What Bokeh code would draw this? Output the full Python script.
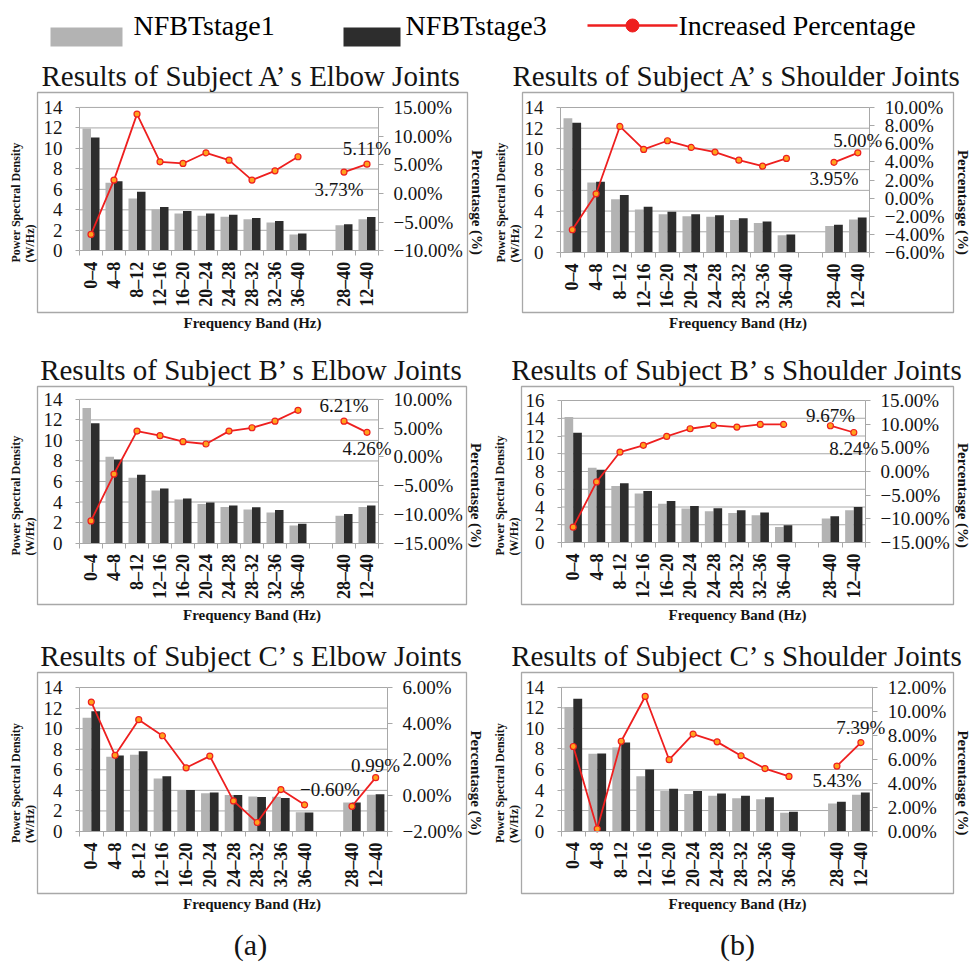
from math import pi

from bokeh.core.properties import value
from bokeh.embed import file_html
from bokeh.layouts import column, row
from bokeh.models import (CustomJSTickFormatter, FixedTicker, Label, LinearAxis,
                          Range1d, SingleIntervalTicker, Title)
from bokeh.plotting import figure
from bokeh.resources import INLINE

# ---------------------------------------------------------------- data
bands = ["0–4", "4–8", "8–12", "12–16", "16–20", "20–24", "24–28",
         "28–32", "32–36", "36–40", "28–40", "12–40"]

a_elbow_stage1 = [11.95, 6.64, 5.11, 4.04, 3.65, 3.42, 3.32, 3.09, 2.77, 1.60, 2.50, 3.09]
a_elbow_stage3 = [11.07, 6.80, 5.77, 4.27, 3.88, 3.65, 3.52, 3.19, 2.90, 1.69, 2.60, 3.29]
a_elbow_pct = [-7.15, 2.33, 13.84, 5.52, 5.23, 7.09, 5.81, 2.33, 3.95, 6.40, 3.73, 5.11]

a_shoulder_stage1 = [12.97, 6.76, 5.15, 4.15, 3.70, 3.51, 3.44, 3.15, 2.86, 1.67, 2.57, 3.19]
a_shoulder_stage3 = [12.52, 6.82, 5.54, 4.41, 3.93, 3.70, 3.60, 3.31, 2.99, 1.74, 2.67, 3.38]
a_shoulder_pct = [-3.49, 0.48, 7.91, 5.37, 6.33, 5.59, 5.08, 4.19, 3.53, 4.38, 3.95, 5.00]

b_elbow_stage1 = [13.16, 8.40, 6.37, 5.12, 4.25, 3.80, 3.51, 3.28, 2.99, 1.71, 2.67, 3.51]
b_elbow_stage3 = [11.68, 8.14, 6.66, 5.31, 4.35, 3.96, 3.67, 3.48, 3.22, 1.87, 2.83, 3.67]
b_elbow_pct = [-11.15, -2.99, 4.48, 3.68, 2.64, 2.24, 4.48, 5.06, 6.21, 8.10, 6.21, 4.26]

b_shoulder_stage1 = [14.13, 8.43, 6.37, 5.51, 4.38, 3.82, 3.52, 3.33, 3.07, 1.76, 2.70, 3.63]
b_shoulder_stage3 = [12.36, 8.21, 6.67, 5.81, 4.68, 4.12, 3.86, 3.63, 3.37, 1.95, 2.96, 4.01]
b_shoulder_pct = [-11.77, -2.21, 4.11, 5.52, 7.41, 9.03, 9.73, 9.38, 9.94, 9.94, 9.67, 8.24]

c_elbow_stage1 = [11.07, 7.27, 7.47, 5.16, 4.03, 3.73, 3.54, 3.41, 3.38, 1.88, 2.83, 3.57]
c_elbow_stage3 = [11.69, 7.40, 7.79, 5.36, 4.03, 3.80, 3.54, 3.35, 3.25, 1.85, 2.83, 3.61]
c_elbow_pct = [5.19, 2.23, 4.21, 3.32, 1.54, 2.19, -0.30, -1.50, 0.33, -0.52, -0.60, 0.99]

c_shoulder_stage1 = [12.08, 7.53, 8.14, 5.35, 3.91, 3.62, 3.43, 3.20, 3.11, 1.79, 2.69, 3.53]
c_shoulder_stage3 = [12.88, 7.56, 8.62, 5.99, 4.13, 3.91, 3.65, 3.43, 3.30, 1.89, 2.85, 3.75]
c_shoulder_pct = [7.06, 0.19, 7.50, 11.24, 5.96, 8.10, 7.45, 6.29, 5.22, 4.56, 5.43, 7.39]

series_names = ["NFBTstage1", "NFBTstage3", "Increased Percentage"]
caption_names = ["(a)", "(b)"]

# ---------------------------------------------------------------- style
SERIF = "Liberation Serif"
GRAY = "#b3b3b3"
DARK = "#2d2d2d"
RED = "#ee1f1f"
MARK = "#ffa21c"
RULE = "#a8a8a8"
INK = "#141414"

# the ten bands, an empty slot, then the two summary bands
n_main = 10
slot = [i if i < n_main else i + 1 for i in range(len(bands))]
centers = [s + 0.5 for s in slot]
n_slots = slot[-1] + 1


def pct_text(v):
    s = f"{abs(v):.2f}%"
    return "\u2212" + s if v < 0 else s


pct_fmt = CustomJSTickFormatter(code="""
    const s = Math.abs(tick).toFixed(2) + "%";
    return tick < 0 ? "\\u2212" + s : s;
""")


def style_ticks(ax, size):
    ax.major_label_text_font = SERIF
    ax.major_label_text_font_size = size
    ax.major_label_text_color = INK
    ax.axis_line_color = RULE
    ax.major_tick_line_color = RULE
    ax.minor_tick_line_color = None


def panel(title, s1, s3, pct, psd_max, pct_lo, pct_hi, pct_step, tags, g):
    """One chart panel; the plot frame is the grey chart-area box and the
    axes sit inside it at fixed data locations."""
    x0, y0, w, h = g["fig"]
    bl, bt, br, bb = g["box"]
    L, T, R, B = g["axes"]

    # extend the ranges so that slot 0 / slot 13 and the value limits land on
    # the axis positions inside the box
    xs = (R - L) / n_slots
    ys = (B - T) / psd_max
    ps = (B - T) / (pct_hi - pct_lo)
    x_rng = Range1d(-(L - bl) / xs, n_slots + (br - R) / xs)
    y_rng = Range1d(-(bb - B) / ys, psd_max + (T - bt) / ys)
    p_rng = Range1d(pct_lo - (bb - B) / ps, pct_hi + (T - bt) / ps)

    p = figure(width=w, height=h, output_backend="svg", toolbar_location=None,
               x_range=x_rng, y_range=y_rng, title=title,
               x_axis_location=None, y_axis_location=None,
               min_border_left=bl - x0, min_border_top=bt - y0,
               min_border_right=x0 + w - br, min_border_bottom=y0 + h - bb)
    p.extra_y_ranges = {"pct": p_rng}
    p.outline_line_color = RULE
    p.outline_line_width = 1.3
    p.background_fill_color = "white"
    p.border_fill_color = "white"
    p.grid.visible = False

    p.title.align = "center"
    p.title.text_font = SERIF
    p.title.text_font_size = "29px"
    p.title.text_font_style = "normal"
    p.title.text_color = INK
    p.title.standoff = 2

    # horizontal rules at the left-axis ticks, between the two value axes
    rules = list(range(2, psd_max + 1, 2))
    p.segment(x0=[0] * len(rules), x1=[n_slots] * len(rules), y0=rules, y1=rules,
              line_color=RULE, line_width=1)

    # category axis: labels at slot centres, tick marks on slot boundaries
    xa = LinearAxis(fixed_location=0, bounds=(0, n_slots),
                    ticker=FixedTicker(ticks=centers, minor_ticks=list(range(n_slots + 1))))
    style_ticks(xa, "18px")
    xa.major_label_overrides = {c: b for c, b in zip(centers, bands)}
    xa.major_label_orientation = pi / 2
    xa.major_label_text_font_style = "bold"
    xa.major_tick_out = 0
    xa.major_tick_in = 0
    xa.minor_tick_line_color = RULE
    xa.minor_tick_out = 5
    xa.minor_tick_in = 0
    xa.major_label_standoff = 6
    p.add_layout(xa, "below")

    ya = LinearAxis(fixed_location=0, bounds=(0, psd_max),
                    ticker=SingleIntervalTicker(interval=2, num_minor_ticks=0))
    style_ticks(ya, "19px")
    ya.major_tick_out = 4
    ya.major_tick_in = 0
    ya.major_label_standoff = 13
    p.add_layout(ya, "left")

    ra = LinearAxis(y_range_name="pct", fixed_location=n_slots, bounds=(pct_lo, pct_hi),
                    ticker=SingleIntervalTicker(interval=pct_step, num_minor_ticks=0),
                    formatter=pct_fmt)
    style_ticks(ra, "19px")
    ra.major_tick_out = 5
    ra.major_tick_in = 0
    ra.major_label_standoff = 10
    p.add_layout(ra, "right")

    # paired bars per band
    p.vbar(x=[c - 0.185 for c in centers], top=s1, width=0.37,
           fill_color=GRAY, line_color=None)
    p.vbar(x=[c + 0.185 for c in centers], top=s3, width=0.37,
           fill_color=DARK, line_color=None)

    # percentage line, broken across the empty slot
    p.line(centers[:n_main], pct[:n_main], y_range_name="pct",
           line_color=RED, line_width=1.8)
    p.line(centers[n_main:], pct[n_main:], y_range_name="pct",
           line_color=RED, line_width=1.8)
    p.scatter(centers, pct, y_range_name="pct", size=6,
              fill_color=MARK, line_color=RED, line_width=1.2)

    for i, dx, dy in tags:
        p.add_layout(Label(x=centers[i], y=pct[i], y_range_name="pct",
                           x_offset=dx, y_offset=dy, text=pct_text(pct[i]),
                           text_font=SERIF, text_font_size="19px", text_color=INK,
                           text_align="center", text_baseline="middle"))

    # axis titles around the box
    p.add_layout(Title(text="Power Spectral Density\n(W/Hz)", align="center",
                       vertical_align="middle", standoff=0, text_font=SERIF,
                       text_font_size="12px", text_font_style="bold",
                       text_color=INK), "left")
    p.add_layout(Title(text="Percentasge (%)", align="center", vertical_align="middle",
                       standoff=0, text_font=SERIF, text_font_size="15px",
                       text_font_style="bold", text_color=INK), "right")
    p.add_layout(Title(text="Frequency Band (Hz)", align="center", vertical_align="middle",
                       standoff=2, text_font=SERIF, text_font_size="15px",
                       text_font_style="bold", text_color=INK), "below")
    return p


# figure placement (x0, y0, width, height), chart box and axis positions, in page pixels
geo_a1 = dict(fig=(0, 50, 491, 290), box=(37, 92, 467, 313), axes=(79, 107, 378, 251))
geo_b1 = dict(fig=(491, 50, 480, 290), box=(522, 92, 954, 312), axes=(560, 107, 870, 252))
geo_a2 = dict(fig=(0, 340, 491, 295), box=(37, 385, 466, 605), axes=(79, 398, 378, 543))
geo_b2 = dict(fig=(491, 340, 480, 295), box=(521, 386, 953, 604), axes=(561, 400, 865, 542))
geo_a3 = dict(fig=(0, 635, 491, 285), box=(37, 672, 466, 893), axes=(79, 687, 387, 831))
geo_b3 = dict(fig=(491, 635, 480, 285), box=(520, 672, 954, 895), axes=(560, 687, 873, 832))

p_a1 = panel("Results of Subject A’ s Elbow Joints", a_elbow_stage1, a_elbow_stage3,
             a_elbow_pct, 14, -10, 15, 5, [(11, 0, 16), (10, -5, -17)], geo_a1)
p_b1 = panel("Results of Subject A’ s Shoulder Joints", a_shoulder_stage1, a_shoulder_stage3,
             a_shoulder_pct, 14, -6, 10, 2, [(11, 0, 12), (10, 0, -16)], geo_b1)
p_a2 = panel("Results of Subject B’ s Elbow Joints", b_elbow_stage1, b_elbow_stage3,
             b_elbow_pct, 14, -15, 10, 5, [(10, 0, 16), (11, 0, -16)], geo_a2)
p_b2 = panel("Results of Subject B’ s Shoulder Joints", b_shoulder_stage1, b_shoulder_stage3,
             b_shoulder_pct, 16, -15, 15, 5, [(10, 0, 10), (11, 0, -16)], geo_b2)
p_a3 = panel("Results of Subject C’ s Elbow Joints", c_elbow_stage1, c_elbow_stage3,
             c_elbow_pct, 14, -2, 6, 2, [(10, -22, 17), (11, 0, 12)], geo_a3)
p_b3 = panel("Results of Subject C’ s Shoulder Joints", c_shoulder_stage1, c_shoulder_stage3,
             c_shoulder_pct, 14, 0, 12, 2, [(11, 0, 15), (10, 0, -14)], geo_b3)


def blank(w, h):
    f = figure(width=w, height=h, output_backend="svg", toolbar_location=None,
               x_range=Range1d(0, w), y_range=Range1d(h, 0),
               x_axis_location=None, y_axis_location=None, min_border=0)
    f.grid.visible = False
    f.outline_line_color = None
    f.background_fill_color = "white"
    f.border_fill_color = "white"
    return f


# shared key across the top
key = blank(971, 50)
key.quad(left=[50], right=[122], top=[27], bottom=[46], fill_color=GRAY, line_color=None)
key.quad(left=[343], right=[400], top=[27], bottom=[46], fill_color=DARK, line_color=None)
key.line([587, 677], [25, 25], line_color=RED, line_width=2.5)
key.scatter([632], [25], size=13, fill_color=RED, line_color=RED)
key.text(x=[133, 405, 678], y=[25, 25, 25], text=series_names,
         text_font=value(SERIF), text_font_size="28px", text_color="#000000",
         text_baseline="alphabetic", text_align="left")

# sub-figure captions
cap = blank(971, 48)
cap.text(x=[250, 737], y=[24, 24], text=caption_names,
         text_font=value(SERIF), text_font_size="30px", text_color=INK,
         text_baseline="alphabetic", text_align="center")

layout = column(key, row(p_a1, p_b1), row(p_a2, p_b2), row(p_a3, p_b3), cap)

with open("out.html", "w") as fh:
    fh.write(file_html(layout, INLINE))
